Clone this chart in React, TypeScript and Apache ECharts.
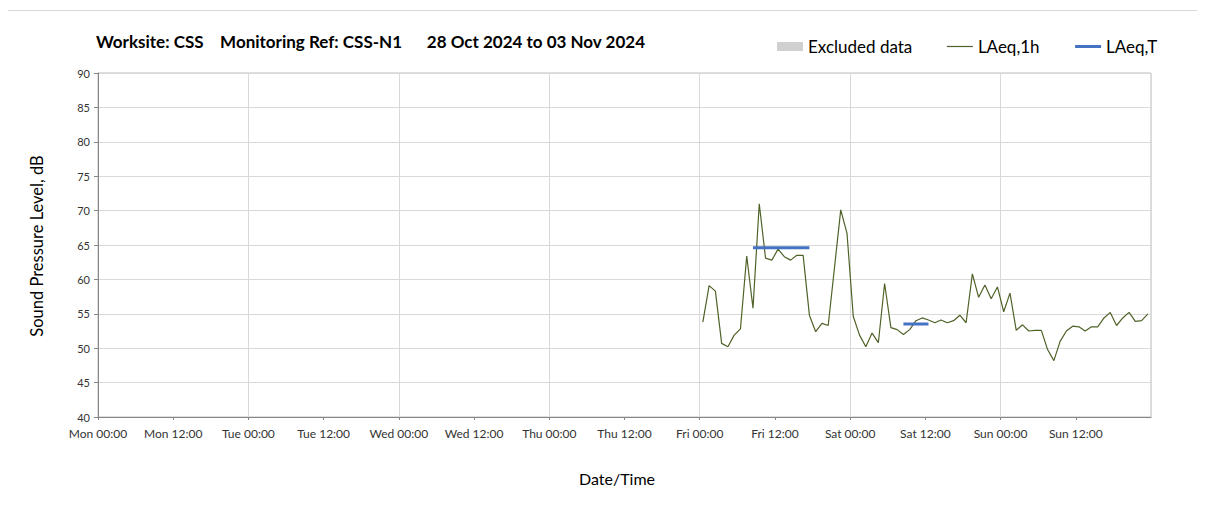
import React, { useEffect, useRef } from "react";
import * as echarts from "echarts";

// ---- Data ----
const titleText = "Worksite: CSS    Monitoring Ref: CSS-N1      28 Oct 2024 to 03 Nov 2024";
const xTickLabels = [
  "Mon 00:00", "Mon 12:00", "Tue 00:00", "Tue 12:00", "Wed 00:00", "Wed 12:00",
  "Thu 00:00", "Thu 12:00", "Fri 00:00", "Fri 12:00", "Sat 00:00", "Sat 12:00",
  "Sun 00:00", "Sun 12:00",
];
// hours since Mon 00:00 at which the hourly series begins (Fri 00:00)
const laeq1hStartHour = 96;
// hourly LAeq,1h values (dB), Fri 00:00 .. Sun 23:00, plotted at mid-hour
const laeq1hValues = [
  53.8, 59.1, 58.3, 50.7, 50.2, 51.9, 52.8, 63.4, 55.8, 71.0, 63.1, 62.8,
  64.4, 63.3, 62.8, 63.5, 63.5, 54.8, 52.4, 53.6, 53.3, 61.7, 70.1, 66.7,
  54.6, 51.9, 50.2, 52.2, 50.8, 59.4, 53.0, 52.7, 52.0, 52.7, 54.0, 54.4,
  54.1, 53.7, 54.1, 53.7, 54.0, 54.8, 53.7, 60.8, 57.4, 59.2, 57.2, 58.9,
  55.3, 58.0, 52.6, 53.4, 52.5, 52.6, 52.6, 49.8, 48.2, 51.0, 52.5, 53.2,
  53.1, 52.5, 53.1, 53.1, 54.4, 55.2, 53.3, 54.4, 55.2, 53.9, 54.0, 55.0,
];
// LAeq,T periods: start hour, end hour (since Mon 00:00), level dB
const laeqTStart = [104.5, 128.5];
const laeqTEnd = [113.5, 132.5];
const laeqTLevel = [64.6, 53.5];
// excluded data: none in this period
const excludedData: number[][] = [];

const FONT = "Lato, 'Open Sans', sans-serif";

export default function App() {
  const ref = useRef<HTMLDivElement>(null);
  useEffect(() => {
    if (!ref.current) return;
    const chart = echarts.init(ref.current, undefined, { renderer: "svg" });
    const lineData = laeq1hValues.map((v, i) => [laeq1hStartHour + i + 0.5, v]);
    const tData: any[] = [];
    laeqTStart.forEach((s, i) => {
      if (i > 0) tData.push([(laeqTEnd[i - 1] + s) / 2, "-"]);
      tData.push([s, laeqTLevel[i]]);
      tData.push([laeqTEnd[i], laeqTLevel[i]]);
    });
    const hidden = { color: "rgba(0,0,0,0)", borderWidth: 0, opacity: 0 };
    chart.setOption({
      animation: false,
      textStyle: { fontFamily: FONT },
      graphic: [
        {
          type: "rect",
          shape: { x: 5.5, y: 10.5, width: 1196, height: 520 },
          style: { fill: "none", stroke: "#d9d9d9", lineWidth: 1 },
          silent: true,
        },
        {
          type: "text",
          left: 96,
          top: 33,
          style: {
            text: titleText,
            font: `bold 17px ${FONT}`,
            fill: "#000",
          },
        },
        {
          type: "text",
          x: 617,
          y: 478,
          style: {
            text: "Date/Time",
            font: `16px ${FONT}`,
            fill: "#000",
            align: "center",
            verticalAlign: "middle",
          },
        },
        {
          type: "text",
          x: 37,
          y: 246,
          rotation: Math.PI / 2,
          style: {
            text: "Sound Pressure Level, dB",
            font: `16.5px ${FONT}`,
            fill: "#000",
            align: "center",
            verticalAlign: "middle",
          },
        },
      ],
      legend: {
        top: 33,
        left: 772,
        itemWidth: 26,
        itemHeight: 9,
        itemGap: 34,
        textStyle: { fontSize: 17, color: "#000", fontFamily: FONT },
        data: [
          { name: "Excluded data", icon: "rect" },
          { name: "LAeq,1h", itemStyle: hidden, lineStyle: { width: 1.2 } },
          { name: "LAeq,T", itemStyle: hidden, lineStyle: { width: 3 } },
        ],
      },
      grid: { left: 98, right: 54, top: 73, bottom: 95, containLabel: false, show: true, borderColor: "#bfbfbf", borderWidth: 1 },
      xAxis: [
        {
          type: "value",
          min: 0,
          max: 168,
          interval: 12,
          axisLine: { show: true, onZero: false, lineStyle: { color: "#868686" } },
          axisTick: { show: true, length: 3, lineStyle: { color: "#868686" } },
          axisLabel: {
            fontSize: 12,
            color: "#333",
            margin: 10,
            showMaxLabel: false,
            formatter: (v: number) => xTickLabels[Math.round(v / 12)] ?? "",
          },
          splitLine: { show: false },
        },
        {
          type: "value",
          position: "bottom",
          min: 0,
          max: 168,
          interval: 24,
          axisLine: { show: false },
          axisTick: { show: false },
          axisLabel: { show: false },
          splitLine: { show: true, lineStyle: { color: "#d9d9d9", width: 1 } },
        },
      ],
      yAxis: {
        type: "value",
        min: 40,
        max: 90,
        interval: 5,
        axisLine: { show: true, lineStyle: { color: "#868686" } },
        axisTick: { show: true, length: 4, lineStyle: { color: "#868686" } },
        axisLabel: { fontSize: 11, color: "#333", margin: 8 },
        splitLine: { show: true, lineStyle: { color: "#d9d9d9", width: 1 } },
      },
      series: [
        {
          name: "Excluded data",
          type: "bar",
          data: excludedData,
          itemStyle: { color: "#d0d0d0" },
        },
        {
          name: "LAeq,1h",
          type: "line",
          data: lineData,
          symbol: "none",
          lineStyle: { color: "#4f6228", width: 1.2 },
          itemStyle: { color: "#4f6228" },
        },
        {
          name: "LAeq,T",
          type: "line",
          data: tData,
          symbol: "none",
          connectNulls: false,
          lineStyle: { color: "#4472c4", width: 3 },
          itemStyle: { color: "#4472c4" },
        },
      ],
    });
    return () => chart.dispose();
  }, []);
  return <div ref={ref} style={{ width: 1205, height: 512, margin: -8 }} />;
}
